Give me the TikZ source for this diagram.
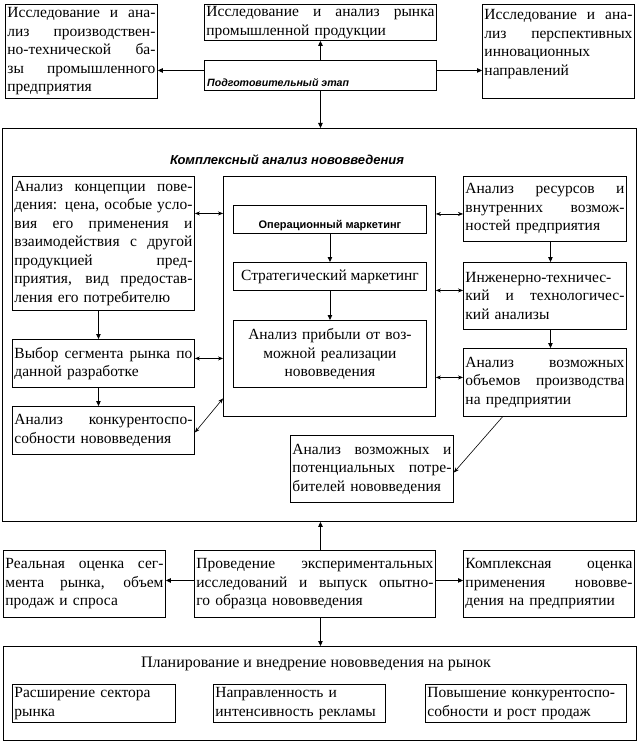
\documentclass[tikz,border=0pt]{standalone}
\usepackage{fontspec}
\setmainfont{Liberation Serif}
\newfontfamily\sansfam{Liberation Sans}
\usetikzlibrary{arrows.meta}
\newlength\jwd
\newcommand\jline[1]{\noindent\hbox to \jwd{\spaceskip=0.25em plus 1fil\relax #1}\\}
\tikzset{
  box/.style={draw, line width=0.9pt, anchor=north west, inner xsep=2pt, inner ysep=0pt,
    font=\fontsize{15.5}{18.5}\selectfont, align=left},
  jbox/.style={box, text width=#1, execute at begin node={\setlength\jwd{#1}}},
  arr/.style={line width=0.9pt, -{Triangle[length=5pt,width=4.5pt]}},
  darr/.style={line width=0.6pt, {Stealth[length=5pt,width=4pt]}-{Stealth[length=5pt,width=4pt]}},
  smallbi/.style={font=\sansfam\bfseries\itshape\fontsize{10.6}{12}\selectfont},
}
\begin{document}
\begin{tikzpicture}[x=1pt,y=-1pt]
\useasboundingbox (0,0) rectangle (639,743);
\fill[white] (0,0) rectangle (639,743);
% top row
\node[jbox=148pt, minimum height=94pt] (A) at (5,4)
 {\jline{Исследование и ана-}\jline{лиз производствен-}\jline{но-технической ба-}\jline{зы промышленного}предприятия};
\node[jbox=228pt, minimum height=36pt] (B) at (204,4)
 {\jline{Исследование и анализ рынка}промышленной продукции};
\node[jbox=148pt, minimum height=94pt] (C) at (482,4)
 {\jline{Исследование и ана-}\jline{лиз перспективных}инновационных\\направлений\\\mbox{}};
\node[box, text width=228pt, minimum height=30pt] (prep) at (204,60) {};
\node[smallbi, anchor=base west, inner sep=0pt] (preptxt) at ([xshift=3pt,yshift=4pt]prep.south west) {Подготовительный этап};
\draw[arr] (prep.north) -- (B.south);
\draw[arr] ([yshift=5pt]prep.west) -- ([yshift=5pt]prep.west -| A.east);
\draw[arr] ([yshift=5pt]prep.east) -- ([yshift=5pt]prep.east -| C.west);
% big box
\node[box, minimum width=634pt, minimum height=393pt, inner sep=0pt] (big) at (2,128) {};
\draw[arr] (prep.south) -- (prep.south |- big.north);
\node[font=\sansfam\bfseries\itshape\fontsize{13}{15}\selectfont, inner sep=0pt] (title) at (287,160) {Комплексный анализ нововведения};
% left column
\node[jbox=178pt, minimum height=134pt] (L1) at (12,176)
 {\jline{Анализ концепции пове-}\jline{дения: цена, особые усло-}\jline{вия его применения и}\jline{взаимодействия с другой}\jline{продукцией пред-}\jline{приятия, вид предостав-}ления его потребителю};
\node[jbox=178pt, minimum height=48pt] (L2) at (12,339)
 {\jline{Выбор сегмента рынка по}данной разработке};
\node[jbox=178pt, minimum height=48pt] (L3) at (12,406)
 {\jline{Анализ конкурентоспо-}собности нововведения};
\draw[arr] ([xshift=-5pt]L1.south) -- ([xshift=-5pt]L2.north);
\draw[arr] ([xshift=-5pt]L2.south) -- ([xshift=-5pt]L3.north);
% center container
\node[box, minimum width=212pt, minimum height=240pt, inner sep=0pt] (cont) at (223,176) {};
\node[box, minimum width=193pt, minimum height=28pt, inner sep=0pt, font=\sansfam\bfseries\fontsize{11}{12}\selectfont, align=center] (op) at (233,205) {\raisebox{-9pt}[0pt][0pt]{Операционный маркетинг}};
\node[box, minimum width=193pt, minimum height=28pt, inner sep=0pt, align=center] (strat) at (233,262) {Стратегический маркетинг};
\node[box, text width=189pt, minimum height=67pt, align=center] (profit) at (233,320)
 {Анализ прибыли от воз-\\можной реализации\\нововведения};
\draw[arr] (op.south) -- (strat.north);
\draw[arr] (strat.south) -- (profit.north);
\draw[darr] ([yshift=30pt]L1.east) -- ([yshift=30pt]L1.east -| cont.west);
\draw[darr] ([yshift=5pt]L2.east) -- ([yshift=5pt]L2.east -| cont.west);
\draw[darr] ([yshift=-2pt]L3.east) -- ([yshift=-102pt]cont.west);
% right column
\node[jbox=159pt, minimum height=65pt] (R1) at (463,176)
 {\jline{Анализ ресурсов и}\jline{внутренних возмож-}ностей предприятия};
\node[jbox=159pt, minimum height=67pt] (R2) at (463,262)
 {\jline{Инженерно-техничес-}\jline{кий и технологичес-}кий анализы};
\node[jbox=159pt, minimum height=68pt] (R3) at (463,348)
 {\jline{Анализ возможных}\jline{объемов производства}на предприятии};
\node[jbox=159pt, minimum height=67pt] (R4) at (290,435)
 {\jline{Анализ возможных и}\jline{потенциальных потре-}бителей нововведения};
\draw[arr] ([xshift=5.5pt]R1.south) -- ([xshift=5.5pt]R2.north);
\draw[arr] ([xshift=5.5pt]R2.south) -- ([xshift=5.5pt]R3.north);
\draw[darr] ([yshift=-5pt]R1.west) -- ([yshift=-5pt]R1.west -| cont.east);
\draw[darr] ([yshift=5.5pt]R2.west) -- ([yshift=5.5pt]R2.west -| cont.east);
\draw[darr] ([yshift=5pt]R3.west) -- ([yshift=5pt]R3.west -| cont.east);
\draw[line width=0.6pt, -{Stealth[length=5pt,width=4pt]}] ([xshift=-42.5pt]R3.south) -- ([yshift=-3.5pt]R4.east);
% bottom row
\node[jbox=158pt, minimum height=67pt] (E1) at (3,550)
 {\jline{Реальная оценка сег-}\jline{мента рынка, объем}продаж и спроса};
\node[jbox=237pt, minimum height=67pt] (E2) at (194,550)
 {\jline{Проведение экспериментальных}\jline{исследований и выпуск опытно-}го образца нововведения};
\node[jbox=167pt, minimum height=67pt] (E3) at (463,550)
 {\jline{Комплексная оценка}\jline{применения нововве-}дения на предприятии};
\draw[arr] ([xshift=5.5pt]E2.north) -- ([xshift=5.5pt]E2.north |- big.south);
\draw[arr] ([yshift=3.5pt]E2.west) -- ([yshift=3.5pt]E2.west -| E1.east);
\draw[arr] ([yshift=3.5pt]E2.east) -- ([yshift=3.5pt]E2.east -| E3.west);
% final box
\node[box, minimum width=633pt, minimum height=94pt, inner sep=0pt] (F) at (3,646) {};
\draw[arr] ([xshift=5.5pt]E2.south) -- ([xshift=5.5pt]E2.south |- F.north);
\node[font=\fontsize{16}{18.5}\selectfont, inner sep=0pt] (Ftitle) at (316,664) {Планирование и внедрение нововведения на рынок};
\node[box, text width=159pt, minimum height=38pt] (F1) at (12,684) {Расширение сектора\\рынка};
\node[box, text width=168pt, minimum height=38pt] (F2) at (213,684) {Направленность и\\интенсивность рекламы};
\node[box, text width=197pt, minimum height=38pt] (F3) at (425,684) {Повышение конкурентоспо-\\собности и рост продаж};
\end{tikzpicture}
\end{document}
